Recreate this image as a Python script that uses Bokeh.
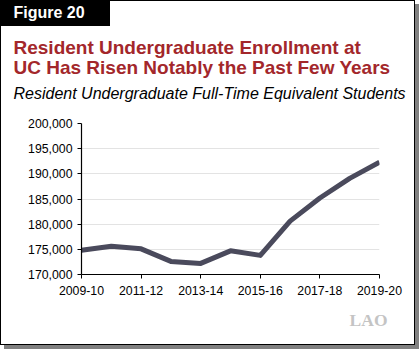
from bokeh.plotting import figure
from bokeh.layouts import column
from bokeh.models import Range1d, FixedTicker, NumeralTickFormatter, Title, Div
from bokeh.embed import file_html
from bokeh.resources import INLINE

years = ["2009-10", "2010-11", "2011-12", "2012-13", "2013-14", "2014-15",
         "2015-16", "2016-17", "2017-18", "2018-19", "2019-20"]
enrollment = [174800, 175600, 175100, 172600, 172200, 174700,
              173800, 180600, 185200, 189100, 192300]
y_ticks = [170000, 175000, 180000, 185000, 190000, 195000, 200000]
x_index = list(range(len(years)))

figure_label = "Figure 20"
title_lines = ["Resident Undergraduate Enrollment at",
               "UC Has Risen Notably the Past Few Years"]
subtitle = "Resident Undergraduate Full-Time Equivalent Students"

FONT = "Liberation Sans"
W = 413
HEAD_H = 110
CHART_H = 343 - HEAD_H


def span(text, left, baseline, size, color, weight="normal", style="normal"):
    top = baseline - 0.905 * size
    return (f'<div style="position:absolute;left:{left}px;top:{top:.1f}px;white-space:nowrap;'
            f'font-family:\'{FONT}\';font-size:{size}px;line-height:1.117;font-weight:{weight};'
            f'font-style:{style};color:{color};">{text}</div>')


html = ('<div style="position:relative;width:%dpx;height:%dpx;background:white;">' % (W, HEAD_H)
        + '<div style="position:absolute;left:0;top:0;width:108.5px;height:24.5px;background:black;"></div>'
        + span(figure_label, 12.5, 17.5, 16, "white", "bold")
        + span(title_lines[0], 12.5, 53.5, 19, "#a3272b", "bold")
        + span(title_lines[1], 12.5, 73.5, 19, "#a3272b", "bold")
        + span(subtitle, 12.5, 98.5, 16, "black", "normal", "italic")
        + '</div>')
head = Div(text=html, width=W, height=HEAD_H, styles={"margin": "0", "padding": "0"})

# ---- chart ----
p = figure(width=W, height=CHART_H, output_backend="svg", toolbar_location=None,
           x_range=Range1d(0, len(years) - 1), y_range=Range1d(170000, 200000),
           min_border_left=80, min_border_right=35, min_border_top=12, min_border_bottom=70)
p.background_fill_color = "white"
p.border_fill_color = "white"
p.outline_line_color = None

p.line(x_index, enrollment, line_color="#4a4a5c", line_width=5, line_join="round")

p.xgrid.visible = False
p.ygrid.grid_line_color = "#e3e3e3"
p.ygrid.grid_line_width = 1
p.ygrid.ticker = FixedTicker(ticks=y_ticks)

p.yaxis.ticker = FixedTicker(ticks=y_ticks)
p.yaxis.formatter = NumeralTickFormatter(format="0,0")
p.xaxis.ticker = FixedTicker(ticks=x_index[::2])
p.xaxis.major_label_overrides = {i: years[i] for i in x_index}
for ax in (p.xaxis, p.yaxis):
    ax.axis_line_color = "black"
    ax.axis_line_width = 1.2
    ax.major_tick_line_color = "black"
    ax.major_tick_in = 0
    ax.major_tick_out = 4
    ax.minor_tick_line_color = None
    ax.major_label_text_font = FONT
    ax.major_label_text_font_size = "12.3px"
    ax.major_label_text_color = "black"
    ax.major_label_standoff = 5
p.xaxis.major_label_standoff = 7

p.add_layout(Title(text="LAO", text_font="Liberation Serif", text_font_size="17.5px",
                   text_color="#c4c4c4", align="right", offset=-8, standoff=20), "below")

layout = column(head, p, spacing=0,
                styles={"border": "1.5px solid black", "box-shadow": "4px 4px 0 0 #808080",
                        "background": "white"})

open("out.html", "w").write(file_html(layout, INLINE))
